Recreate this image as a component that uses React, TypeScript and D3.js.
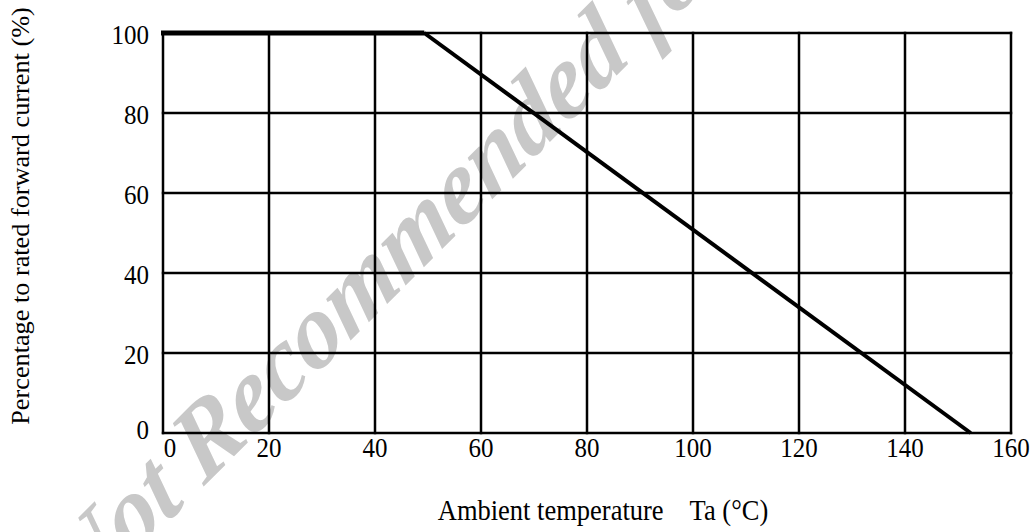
import React, { useEffect, useRef } from "react";
import * as d3 from "d3";

// derating curve: percentage of rated forward current vs ambient temperature
const tempPoints = [0, 49.3, 152.4];
const currentPoints = [100, 100, 0];
const xTicks = [0, 20, 40, 60, 80, 100, 120, 140, 160];
const yTicks = [0, 20, 40, 60, 80, 100];

const W = 1034;
const H = 532;
const FONT = "'Liberation Serif', 'Times New Roman', serif";

const App = () => {
  const ref = useRef<SVGSVGElement>(null);

  useEffect(() => {
    const svg = d3.select(ref.current);
    svg.selectAll("*").remove();

    const x = d3.scaleLinear().domain([0, 160]).range([163, 1011]);
    const y = d3.scaleLinear().domain([0, 100]).range([433, 33]);

    svg.append("rect").attr("width", W).attr("height", H).attr("fill", "white");

    // watermark (the scan is a bit taller than wide, hence the scale)
    svg
      .append("text")
      .attr("transform", "translate(80,610) scale(1,1.2) rotate(-39.7)")
      .style("font-family", FONT)
      .style("font-weight", "bold")
      .style("font-style", "italic")
      .style("font-size", "92px")
      .attr("fill", "#c8c8c8")
      .text("Not Recommended for New Design");

    // grid
    const grid = svg.append("g").attr("stroke", "#000").attr("stroke-width", 2.5);
    grid
      .selectAll(".vx")
      .data(xTicks)
      .enter()
      .append("line")
      .attr("x1", (d) => x(d))
      .attr("x2", (d) => x(d))
      .attr("y1", y(0) + 1.2)
      .attr("y2", y(100) - 1.2);
    grid
      .selectAll(".hy")
      .data(yTicks)
      .enter()
      .append("line")
      .attr("x1", x(0) - 1.2)
      .attr("x2", x(160) + 1.2)
      .attr("y1", (d) => y(d))
      .attr("y2", (d) => y(d));

    // tick labels
    svg
      .append("g")
      .selectAll("text")
      .data(yTicks)
      .enter()
      .append("text")
      .attr("transform", (d) => `translate(149,${y(d) + (d === 0 ? -3 : 2)}) scale(1,1.1)`)
      .attr("text-anchor", "end")
      .attr("dominant-baseline", "central")
      .style("font-family", FONT)
      .style("font-size", "25px")
      .text((d) => d);

    svg
      .append("g")
      .selectAll("text")
      .data(xTicks)
      .enter()
      .append("text")
      .attr("transform", (d) => `translate(${x(d) + (d === 0 ? 7 : 0)},${y(0) + 24}) scale(1,1.1)`)
      .attr("text-anchor", "middle")
      .style("font-family", FONT)
      .style("font-size", "25px")
      .text((d) => d);

    // curve
    const pts = tempPoints.map((t, i) => [t, currentPoints[i]] as [number, number]);
    const line = d3
      .line<[number, number]>()
      .x((d) => x(d[0]))
      .y((d) => y(d[1]));
    svg
      .append("path")
      .attr("d", line(pts.slice(1)))
      .attr("fill", "none")
      .attr("stroke", "#000")
      .attr("stroke-width", 4);
    svg
      .append("line")
      .attr("x1", x(0) - 2)
      .attr("x2", x(tempPoints[1]))
      .attr("y1", y(100))
      .attr("y2", y(100))
      .attr("stroke", "#000")
      .attr("stroke-width", 5);

    // axis titles
    svg
      .append("text")
      .attr("transform", "translate(29,216) rotate(-90) scale(1.05,1)")
      .attr("text-anchor", "middle")
      .style("font-family", FONT)
      .style("font-size", "25px")
      .text("Percentage to rated forward current (%)");

    svg
      .append("text")
      .attr("transform", "translate(603,520) scale(1,1.12)")
      .attr("text-anchor", "middle")
      .style("font-family", FONT)
      .style("font-size", "26.5px")
      .style("white-space", "pre")
      .text("Ambient temperature    Ta (°C)");
  }, []);

  return (
    <svg
      ref={ref}
      width={W}
      height={H}
      style={{ position: "absolute", left: 0, top: 0, display: "block" }}
    />
  );
};

export default App;
